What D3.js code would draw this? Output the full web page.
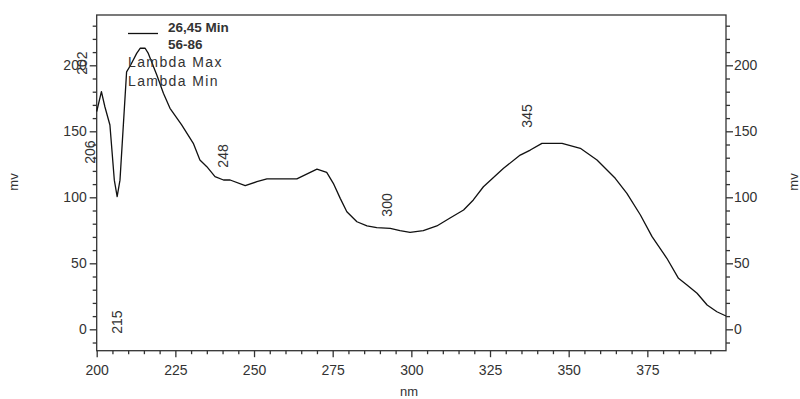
<!DOCTYPE html>
<html><head><meta charset="utf-8">
<script src="https://cdn.jsdelivr.net/npm/d3@7"></script>
<style>body{margin:0;background:#fff}svg{display:block}text{font-family:"Liberation Sans",Arial,sans-serif;fill:#333}</style>
</head><body><svg id="c" width="800" height="399"></svg>
<script>
// wavelength (nm) and signal (mv)
const wavelengths = [200,201.5,202.6,204.2,205.6,206.5,207.4,209.5,210.8,212.7,213.8,215.4,216.4,219.1,221.2,223.3,227.0,230.7,232.8,235.0,237.6,240.3,242.4,247.2,250.9,254.1,263.6,270.0,273.1,275.2,277.4,279.5,282.7,285.9,289.0,293.3,296.4,299.6,303.8,308.1,312.3,316.6,319.7,322.9,329.3,334.6,337.8,341.5,347.9,353.7,359.0,364.8,368.5,372.8,376.5,381.2,384.9,387.6,390.8,394.0,397.1,400];
const signal = [165,180,168.6,154.8,113,100.5,113,195,200.2,209,212.9,212.9,209,192.7,178.8,167.4,154.8,140.9,128.3,123.2,115.6,113.1,113.1,108.8,111.8,113.9,113.9,121.4,118.9,110.6,99.2,89.1,81.5,78.3,77.0,76.5,74.7,73.5,74.7,78.3,84.3,90.4,98,108,122,132,135.8,140.9,140.8,137.1,128.3,114.4,103,86.6,70.2,53.8,38.6,33.6,27.3,18.4,13.3,10.1];
const xTicks = [200,225,250,275,300,325,350,375];
const yTicks = [0,50,100,150,200];
const peakLabels = ["202","206","215","248","300","345"];
const peakX = [195.3,197.9,206.5,240.2,292.3,336.8];
const peakY = [201.7,134.3,5.5,131.3,94.2,161.6];
const legendTitle = ["26,45 Min","56-86"];
const legendItems = ["Lambda Max","Lambda Min"];

const svg = d3.select("#c");
const x = d3.scaleLinear().domain([200,400]).range([96.7,726]);
const y = d3.scaleLinear().domain([-16.2,238.1]).range([350.7,15]);
const axisColor = "#333";

// frame
svg.append("rect").attr("x",x(200)).attr("y",y(238.1)).attr("width",x(400)-x(200)).attr("height",y(-16.2)-y(238.1))
  .attr("fill","none").attr("stroke",axisColor).attr("stroke-width",1.3);

function styleAxis(g){
  g.select(".domain").remove();
  g.selectAll("line").attr("stroke",axisColor).attr("stroke-width",1.3);
  g.selectAll("text").attr("font-size","14px").attr("fill","#333").style("font-family","'Liberation Sans',Arial,sans-serif");
}
// bottom axis
const gxMinor = svg.append("g").attr("transform",`translate(0,${y(-16.2)})`)
  .call(d3.axisBottom(x).tickValues(d3.range(205,400,5).filter(v=>v%25!==0)).tickSize(3.5).tickFormat(""));
styleAxis(gxMinor);
const gx = svg.append("g").attr("transform",`translate(0,${y(-16.2)})`)
  .call(d3.axisBottom(x).tickValues(xTicks).tickSize(6.5).tickPadding(8).tickFormat(d3.format("d")));
styleAxis(gx);
// left axis
const minorY = d3.range(-10,240,10).filter(v=>v%50!==0);
const gyl = svg.append("g").attr("transform",`translate(${x(200)},0)`)
  .call(d3.axisLeft(y).tickValues(minorY).tickSize(4).tickFormat(""));
styleAxis(gyl);
const gy = svg.append("g").attr("transform",`translate(${x(200)},0)`)
  .call(d3.axisLeft(y).tickValues(yTicks).tickSize(7).tickPadding(3).tickFormat(d3.format("d")));
styleAxis(gy);
// right axis
const gyr = svg.append("g").attr("transform",`translate(${x(400)},0)`)
  .call(d3.axisRight(y).tickValues(minorY).tickSize(4).tickFormat(""));
styleAxis(gyr);
const gy2 = svg.append("g").attr("transform",`translate(${x(400)},0)`)
  .call(d3.axisRight(y).tickValues(yTicks).tickSize(7).tickPadding(1).tickFormat(d3.format("d")));
styleAxis(gy2);

// axis titles
svg.append("text").attr("x",409).attr("y",396).attr("text-anchor","middle").attr("font-size","13px").text("nm");
svg.append("text").attr("transform","translate(18,182) rotate(-90)").attr("text-anchor","middle").attr("font-size","13px").text("mv");
svg.append("text").attr("transform","translate(798,182) rotate(-90)").attr("text-anchor","middle").attr("font-size","13px").text("mv");

// curve
const pts = wavelengths.map((w,i)=>[w,signal[i]]);
svg.append("path").datum(pts)
  .attr("d",d3.line().x(d=>x(d[0])).y(d=>y(d[1])))
  .attr("fill","none").attr("stroke","#111").attr("stroke-width",1.3).attr("stroke-linejoin","round");

// peak annotations
peakLabels.forEach((t,i)=>{
  svg.append("text").attr("transform",`translate(${x(peakX[i])},${y(peakY[i])}) rotate(-90)`)
    .attr("text-anchor","middle").attr("dominant-baseline","central").attr("font-size","14px").text(t);
});

// legend
svg.append("line").attr("x1",128).attr("x2",158).attr("y1",33.5).attr("y2",33.5).attr("stroke","#111").attr("stroke-width",1.3);
legendTitle.forEach((t,i)=>{
  svg.append("text").attr("x",168).attr("y",32+i*16.5).attr("font-size","13.5px").attr("font-weight","bold").attr("fill","#222").text(t);
});
legendItems.forEach((t,i)=>{
  svg.append("text").attr("x",128).attr("y",67+i*19).attr("font-size","14px").attr("letter-spacing","1.4px").text(t);
});
</script></body></html>
